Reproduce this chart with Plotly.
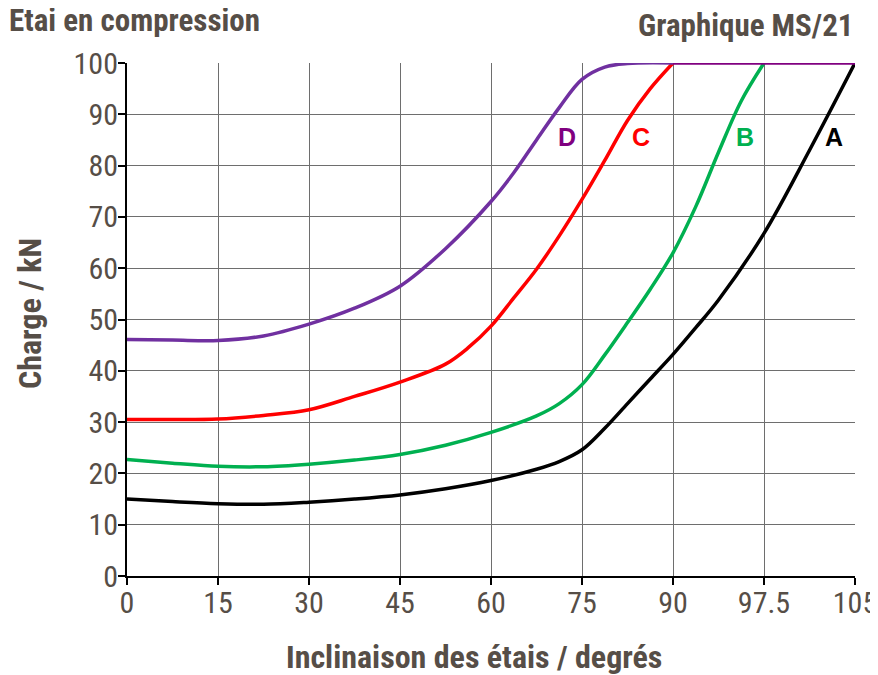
import plotly.graph_objects as go

# ---- data (x in plotted angle units; axis positions 0..120 labelled as in the source) ----
tick_vals = [0, 15, 30, 45, 60, 75, 90, 105, 120]
tick_text = ["0", "15", "30", "45", "60", "75", "90", "97.5", "105"]

x_A = [0, 7.5, 15, 22.5, 30, 37.5, 45, 52.5, 60, 67.5, 71.25, 75, 78.75, 82.5, 86.25, 90, 93.75, 97.5, 105, 112.5, 120]
y_A = [15.0, 14.5, 14.1, 14.0, 14.4, 15.0, 15.8, 17.0, 18.6, 20.8, 22.3, 24.6, 28.8, 33.6, 38.4, 43.2, 48.4, 53.8, 66.8, 83.0, 100]

x_B = [0, 7.5, 15, 22.5, 30, 37.5, 45, 52.5, 60, 67.5, 71.25, 75, 78.75, 82.5, 86.25, 90, 93.75, 97.5, 101.25, 105]
y_B = [22.7, 22.0, 21.4, 21.3, 21.8, 22.6, 23.7, 25.5, 28.0, 31.2, 33.6, 37.3, 43.1, 49.4, 55.9, 63.0, 72.0, 82.6, 92.6, 100]

x_C = [0, 7.5, 15, 22.5, 30, 37.5, 45, 52.5, 56.25, 60, 63.75, 67.5, 71.25, 75, 78.75, 82.5, 86.25, 90]
y_C = [30.5, 30.5, 30.6, 31.3, 32.4, 35.0, 37.8, 41.3, 44.5, 48.7, 54.2, 59.8, 66.3, 73.4, 81.0, 88.8, 95.0, 100]

x_D = [0, 7.5, 15, 22.5, 30, 37.5, 45, 52.5, 60, 63.75, 67.5, 71.25, 75, 78.75, 82.5, 90]
y_D = [46.1, 46.0, 45.9, 46.8, 49.1, 52.2, 56.5, 63.8, 73.0, 78.6, 85.0, 91.3, 96.8, 99.2, 99.9, 100]

x_top = [90, 120]
y_top = [100, 100]

curve_names = ["A", "B", "C", "D"]
label_x = [116.5, 101.9, 84.7, 72.5]
label_y = [85.5, 85.5, 85.5, 85.5]

# ---- style ----
line_colors = {"A": "#000000", "B": "#00B050", "C": "#FF0000", "D": "#7030A0"}
label_colors = {"A": "#000000", "B": "#00B050", "C": "#FF0000", "D": "#800080"}
TXT = "#564E47"
NARROW = "Liberation Sans Narrow, Arial Narrow, Roboto Condensed, DejaVu Sans Condensed, sans-serif"
BOLDF = "Liberation Sans, Arial, sans-serif"

# page is rendered with an 8px body offset: plot area in figure coords
PL, PT, PW, PH = 119, 55, 728, 513

def px(xs):  # screen x -> paper x
    return (xs - 8 - PL) / PW

def py(ys):  # screen y -> paper y
    return (PT + PH - (ys - 8)) / PH

fig = go.Figure()
series = {"A": (x_A, y_A), "B": (x_B, y_B), "C": (x_C, y_C), "D": (x_D, y_D)}
for name in curve_names:
    xs, ys = series[name]
    fig.add_trace(go.Scatter(x=xs, y=ys, mode="lines", name=name,
                             line=dict(color=line_colors[name], width=3.5,
                                       shape="spline", smoothing=1.0),
                             showlegend=False, hoverinfo="skip"))
fig.add_trace(go.Scatter(x=x_top, y=y_top, mode="lines",
                         line=dict(color="#800080", width=3.5),
                         showlegend=False, hoverinfo="skip"))

for name, lx, ly in zip(curve_names, label_x, label_y):
    fig.add_annotation(x=lx, y=ly, text="<b>%s</b>" % name, showarrow=False,
                       font=dict(family=BOLDF, size=25, color=label_colors[name]),
                       xanchor="center", yanchor="middle")

fig.add_annotation(xref="paper", yref="paper", x=px(7), y=py(20),
                   text="<b>Etai en compression</b>", showarrow=False,
                   xanchor="left", yanchor="middle",
                   font=dict(family=NARROW, size=31, color=TXT))
fig.add_annotation(xref="paper", yref="paper", x=px(855), y=py(26),
                   text="<b>Graphique MS/21</b>", showarrow=False,
                   xanchor="right", yanchor="middle",
                   font=dict(family=NARROW, size=31, color=TXT))
fig.add_annotation(xref="paper", yref="paper", x=px(474), y=py(657),
                   text="<b>Inclinaison des étais / degrés</b>", showarrow=False,
                   xanchor="center", yanchor="middle",
                   font=dict(family=NARROW, size=32, color=TXT))
fig.add_annotation(xref="paper", yref="paper", x=px(30), y=py(314),
                   text="<b>Charge / kN</b>", showarrow=False, textangle=-90,
                   xanchor="center", yanchor="middle",
                   font=dict(family=NARROW, size=32, color=TXT))

fig.update_layout(
    width=870, height=667,
    margin=dict(l=PL, r=870 - PL - PW, t=PT, b=667 - PT - PH, autoexpand=False),
    plot_bgcolor="white", paper_bgcolor="white",
    xaxis=dict(range=[0, 120], tickvals=tick_vals, ticktext=tick_text,
               showgrid=True, gridcolor="#6e6e6e", gridwidth=1,
               showline=True, linecolor="black", linewidth=2,
               ticks="outside", ticklen=7, tickwidth=2, tickcolor="black",
               ticklabelstandoff=-8,
               tickfont=dict(family=NARROW, size=30, color=TXT),
               zeroline=False, fixedrange=True),
    yaxis=dict(range=[0, 100], tickvals=list(range(0, 101, 10)),
               showgrid=True, gridcolor="#6e6e6e", gridwidth=1,
               showline=True, linecolor="black", linewidth=2,
               ticks="outside", ticklen=7, tickwidth=2, tickcolor="black",
               ticklabelstandoff=-6,
               tickfont=dict(family=NARROW, size=30, color=TXT),
               zeroline=False, fixedrange=True),
)

fig.write_html("out.html")
